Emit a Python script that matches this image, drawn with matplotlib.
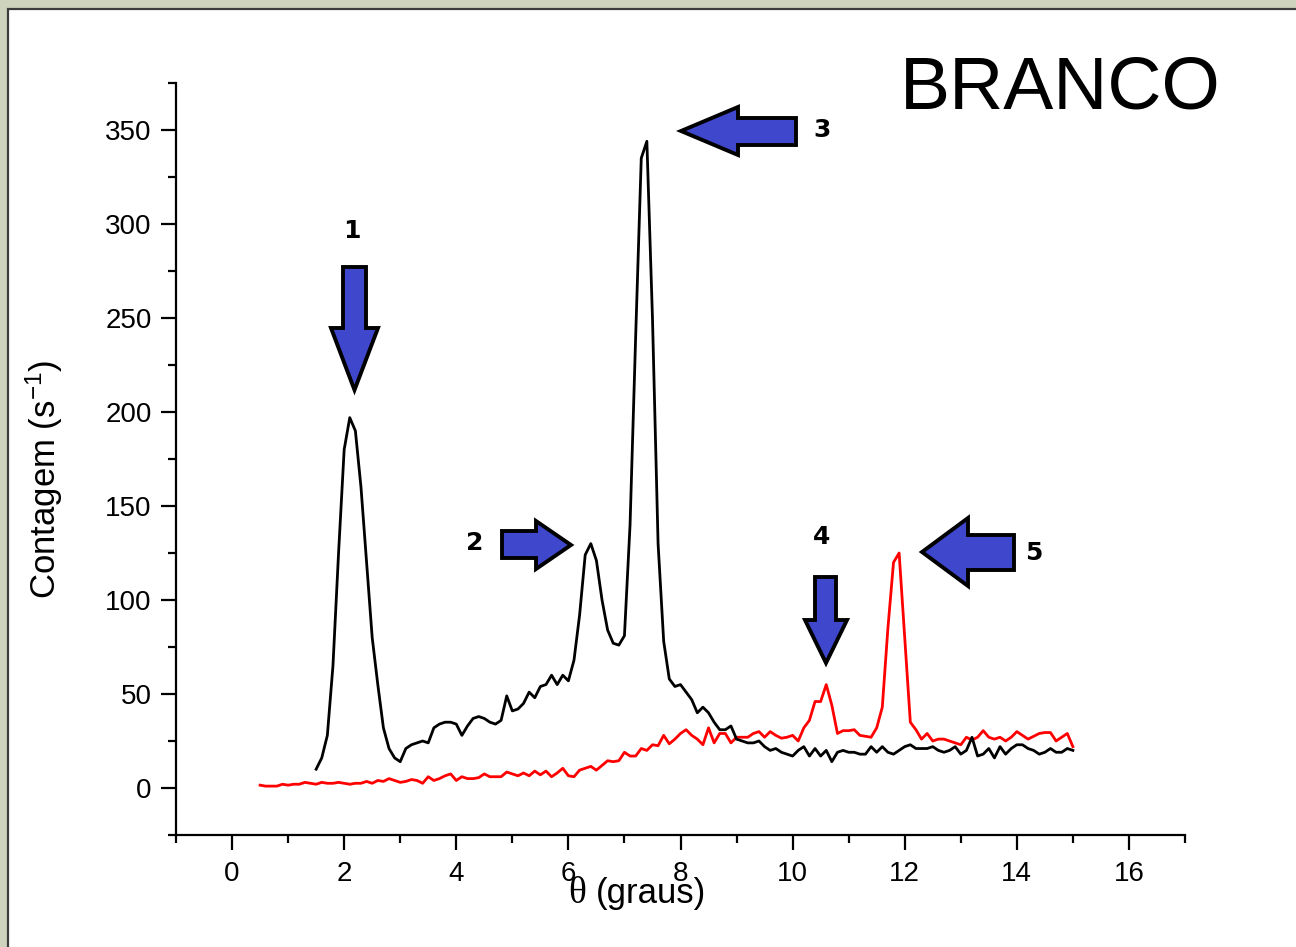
import numpy as np
import matplotlib
matplotlib.use("Agg")
import matplotlib.pyplot as plt
from matplotlib.patches import Polygon, Rectangle
from matplotlib.ticker import MultipleLocator

# ---- scan data (theta in degrees, counts per second) ----
black_start, black_end = 1.5, 15.0
black_counts = [
    10, 16, 28, 65, 125, 180, 197, 190, 160, 120,          # 1.5 - 2.4
    80, 55, 32, 21, 16, 14, 21, 23, 24, 25,                 # 2.5 - 3.4
    24, 32, 34, 35, 35, 34, 28, 33, 37, 38,                 # 3.5 - 4.4
    37, 35, 34, 36, 49, 41, 42, 45, 51, 48,                 # 4.5 - 5.4
    54, 55, 60, 55, 60, 57, 68, 92, 124, 130,               # 5.5 - 6.4
    121, 100, 84, 77, 76, 81, 140, 240, 335, 344,           # 6.5 - 7.4
    250, 130, 78, 58, 54, 55, 51, 47, 40, 43,               # 7.5 - 8.4
    40, 35, 31, 31, 33, 26, 25, 24, 24, 25,                 # 8.5 - 9.4
    22, 20, 21, 19, 18, 17, 20, 22, 17, 21,                 # 9.5 - 10.4
    17, 20, 14, 19, 20, 19, 19, 18, 18, 22,                 # 10.5 - 11.4
    19, 22, 19, 18, 20, 22, 23, 21, 21, 21,                 # 11.5 - 12.4
    22, 20, 19, 20, 22, 18, 20, 27, 17, 18,                 # 12.5 - 13.4
    21, 16, 22, 18, 21, 23, 23, 21, 20, 18,                 # 13.5 - 14.4
    19, 21, 19, 19, 21, 20,                                 # 14.5 - 15.0
]

red_start, red_end = 0.5, 15.0
red_counts = [
    1.5, 1, 1, 1, 2, 1.5, 2, 2, 3, 2.5,                     # 0.5 - 1.4
    2, 3, 2.5, 2.5, 3, 2.5, 2, 2.5, 2.5, 3.5,               # 1.5 - 2.4
    2.5, 4, 3.5, 5, 4, 3, 3.5, 4.5, 4, 2.5,                 # 2.5 - 3.4
    6, 4, 5, 6.5, 7.5, 4, 6, 5, 5, 5.5,                     # 3.5 - 4.4
    7.5, 6, 6, 6, 8.5, 7.5, 6.5, 8, 6.5, 9,                 # 4.5 - 5.4
    7, 9, 6, 8, 10.5, 6.5, 6, 9.5, 10.5, 11.5,              # 5.5 - 6.4
    9.5, 12, 14.5, 14, 14.5, 19, 17, 17, 21, 20,            # 6.5 - 7.4
    23, 22.5, 28, 23.5, 26, 29, 31, 28, 26, 23,             # 7.5 - 8.4
    32, 24, 29, 29, 24, 27, 27, 27, 29, 30,                 # 8.5 - 9.4
    27, 30, 28, 26.5, 27, 28, 25, 32, 36, 46,               # 9.5 - 10.4
    46, 55, 44, 29, 30.5, 30.5, 31, 28, 27.5, 27,           # 10.5 - 11.4
    32, 43, 85, 120, 125, 80, 35, 31, 26, 29,               # 11.5 - 12.4
    25, 26, 26, 25, 24, 23, 27, 25.5, 27, 30.5,             # 12.5 - 13.4
    27, 26, 27, 25, 27, 30, 28, 26, 27.5, 29,               # 13.5 - 14.4
    29.5, 29.5, 25, 27, 29, 22,                             # 14.5 - 15.0
]

theta_black = np.linspace(black_start, black_end, len(black_counts))
theta_red = np.linspace(red_start, red_end, len(red_counts))

x_ticks = [0, 2, 4, 6, 8, 10, 12, 14, 16]
y_ticks = [0, 50, 100, 150, 200, 250, 300, 350]

peak_labels = ["1", "2", "3", "4", "5"]

W, H = 1296, 947
plt.rcParams["font.family"] = ["Liberation Sans", "DejaVu Sans"]
plt.rcParams["mathtext.fontset"] = "custom"
plt.rcParams["mathtext.rm"] = "Liberation Sans"
plt.rcParams["mathtext.it"] = "Liberation Sans:italic"

fig = plt.figure(figsize=(W / 100, H / 100), dpi=100)
fig.patch.set_facecolor("#CDD3BC")


def fx(px):
    return px / W


def fy(py):
    return 1 - py / H


# white slide panel with a dark frame, kept underneath the axes
panel = Rectangle((fx(8), fy(H + 20)), fx(W + 20), (H + 20 - 9) / H,
                  transform=fig.transFigure, facecolor="white",
                  edgecolor="#3c3c3c", linewidth=1.6, zorder=-5)
fig.patches.append(panel)

ax_left, ax_right, ax_top, ax_bottom = 176, 1185, 83, 835
ax = fig.add_axes([fx(ax_left), fy(ax_bottom), (ax_right - ax_left) / W,
                   (ax_bottom - ax_top) / H])
ax.set_facecolor("none")
ax.set_zorder(1)

ax.plot(theta_red, red_counts, color="#FF0000", lw=2.0, zorder=3)
ax.plot(theta_black, black_counts, color="black", lw=2.0, zorder=4)

ax.set_xlim(-1, 17)
ax.set_ylim(-25, 375)
ax.set_xticks(x_ticks)
ax.set_yticks(y_ticks)
ax.xaxis.set_minor_locator(MultipleLocator(1))
ax.yaxis.set_minor_locator(MultipleLocator(25))

for side in ("top", "right"):
    ax.spines[side].set_visible(False)
for side in ("left", "bottom"):
    ax.spines[side].set_linewidth(1.6)

ax.tick_params(which="major", direction="out", length=10.5, width=1.6,
               labelsize=20, pad=7)
ax.tick_params(which="minor", direction="out", length=6, width=1.6)
ax.tick_params(axis="x", which="major", pad=8)

ax.set_ylabel(r"Contagem (s$^{\mathregular{-1}}$)", fontsize=25, va="center")
ax.yaxis.set_label_coords((44 - ax_left) / (ax_right - ax_left),
                          (ax_bottom - 479) / (ax_bottom - ax_top))

# axis title for theta: serif theta followed by sans text
fig.text(fx(577), fy(894), "\u03b8", family="Liberation Serif", fontsize=27,
         ha="center", va="center", zorder=5)
fig.text(fx(596), fy(894), "(graus)", fontsize=25, ha="left", va="center",
         zorder=5)

fig.text(fx(1060), fy(89), "BRANCO", fontsize=54, ha="center", va="center",
         zorder=5)

ARROW_FACE = "#3F48CC"


def block_arrow(pts):
    poly = Polygon([(fx(x), fy(y)) for x, y in pts], closed=True,
                   transform=fig.transFigure, facecolor=ARROW_FACE,
                   edgecolor="black", linewidth=2.8, joinstyle="miter",
                   zorder=10)
    fig.patches.append(poly)


def down_arrow(x0, x1, top, neck, hx0, hx1, tip):
    xc = (hx0 + hx1) / 2
    block_arrow([(x0, top), (x1, top), (x1, neck), (hx1, neck), (xc, tip),
                 (hx0, neck), (x0, neck)])


def right_arrow(y0, y1, left, neck, hy0, hy1, tip):
    yc = (hy0 + hy1) / 2
    block_arrow([(left, y0), (neck, y0), (neck, hy0), (tip, yc), (neck, hy1),
                 (neck, y1), (left, y1)])


def left_arrow(y0, y1, right, neck, hy0, hy1, tip):
    yc = (hy0 + hy1) / 2
    block_arrow([(right, y0), (neck, y0), (neck, hy0), (tip, yc), (neck, hy1),
                 (neck, y1), (right, y1)])


down_arrow(343, 366, 267, 328, 331, 378, 390)
right_arrow(531, 558, 502, 536, 521, 569, 571)
left_arrow(118, 145, 796, 738, 107, 155, 681)
down_arrow(815, 836, 577, 620, 805, 847, 663)
left_arrow(535, 570, 1014, 968, 518, 586, 922)

label_pos = [(352, 231), (475, 543), (822, 130), (822, 537), (1034, 553)]
for txt, (px, py) in zip(peak_labels, label_pos):
    fig.text(fx(px), fy(py), txt, family="DejaVu Sans", fontweight="bold",
             fontsize=18, ha="center", va="center", zorder=11)

fig.savefig("out.png", dpi=100, facecolor=fig.get_facecolor())
